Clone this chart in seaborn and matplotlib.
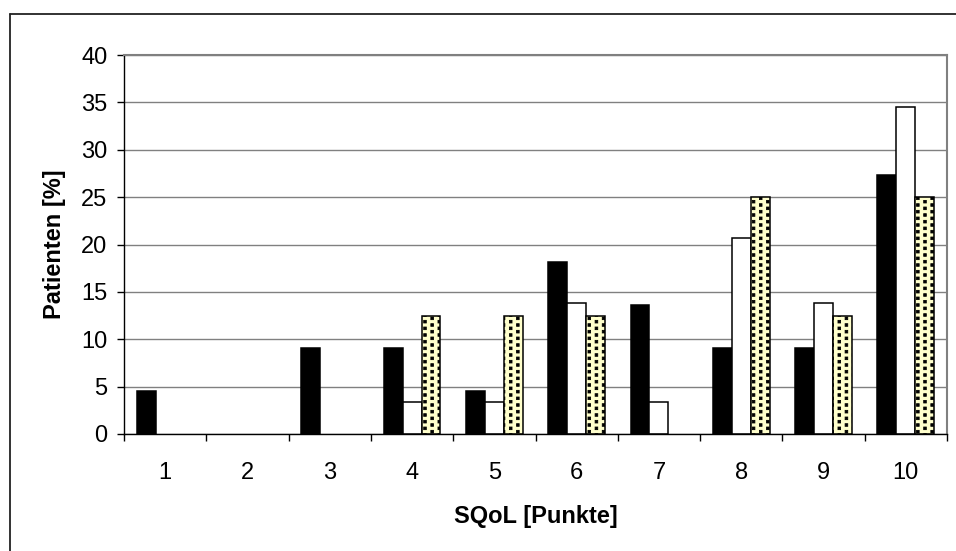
import warnings

import numpy as np
import pandas as pd
import matplotlib
matplotlib.use("Agg")
import matplotlib.pyplot as plt
from matplotlib import hatch as mhatch
from matplotlib.path import Path
from matplotlib.lines import Line2D
from matplotlib.ticker import FixedLocator
import seaborn as sns

# SQoL score categories and share of patients (%) per group
punkte = ["1", "2", "3", "4", "5", "6", "7", "8", "9", "10"]
gruppe_a = [4.5, 0.0, 9.1, 9.1, 4.5, 18.2, 13.6, 9.1, 9.1, 27.3]
gruppe_b = [0.0, 0.0, 0.0, 3.4, 3.4, 13.8, 3.4, 20.7, 13.8, 34.5]
gruppe_c = [0.0, 0.0, 0.0, 12.5, 12.5, 12.5, 0.0, 25.0, 12.5, 25.0]
gruppen = ["A", "B", "C"]
y_ticks = [0, 5, 10, 15, 20, 25, 30, 35, 40]


class SquareDots(mhatch.HatchPatternBase):
    """Staggered grid of small filled squares, selected with hatch 's'."""
    cols, rows, half = 14, 15, 0.013

    def __init__(self, hatch, density):
        self.on = "s" in hatch
        self.num_vertices = self.cols * self.rows * 5 if self.on else 0

    def set_vertices_and_codes(self, vertices, codes):
        square = np.array([[-1, -1], [1, -1], [1, 1], [-1, 1], [-1, -1]]) * self.half
        sq_codes = [Path.MOVETO, Path.LINETO, Path.LINETO, Path.LINETO, Path.CLOSEPOLY]
        k = 0
        for c in range(self.cols):
            x = (c + 0.5) / self.cols
            shift = 0.5 / self.rows if c % 2 else 0.0
            for r in range(self.rows):
                y = (r + 0.25) / self.rows + shift
                vertices[k:k + 5] = square + [x, y]
                codes[k:k + 5] = sq_codes
                k += 5


mhatch._hatch_types.append(SquareDots)
warnings.filterwarnings("ignore", message=".*[Hh]atch.*")

sns.set_theme(style="white")
plt.rcParams["font.family"] = ["Liberation Sans", "DejaVu Sans"]
plt.rcParams["hatch.linewidth"] = 0.6

df = pd.DataFrame({
    "SQoL": punkte * 3,
    "Anteil": gruppe_a + gruppe_b + gruppe_c,
    "Gruppe": [g for g in gruppen for _ in punkte],
})

fig = plt.figure(figsize=(9.56, 5.51), dpi=100)
ax = fig.add_axes([124 / 956, 1 - 434 / 551, 823 / 956, 379 / 551])

sns.barplot(
    data=df, x="SQoL", y="Anteil", hue="Gruppe",
    order=punkte, hue_order=gruppen, width=0.69,
    palette=["black", "white", "#FFFFCC"], saturation=1,
    edgecolor="black", linewidth=1.1, errorbar=None,
    legend=False, ax=ax,
)
for bar in ax.containers[2]:
    bar.set_hatch("s")
# empty categories show no bar outline
for container in ax.containers:
    for bar in container:
        if bar.get_height() == 0:
            bar.set_linewidth(0)

ax.set_xlim(-0.5, 9.5)
ax.set_ylim(0, 40)
ax.set_yticks(y_ticks)
ax.set_yticklabels([str(v) for v in y_ticks])
ax.yaxis.grid(True, color="#808080", linewidth=1.0)
ax.xaxis.grid(False)
ax.set_axisbelow(True)

for side in ("left", "bottom"):
    ax.spines[side].set_color("black")
    ax.spines[side].set_linewidth(1.0)
for side in ("top", "right"):
    ax.spines[side].set_color("#808080")
    ax.spines[side].set_linewidth(1.5)

ax.xaxis.set_minor_locator(FixedLocator(np.arange(-0.5, 10.0, 1.0)))
ax.tick_params(axis="x", which="major", length=0, pad=20, labelsize=17,
               labelcolor="black", bottom=True)
ax.tick_params(axis="x", which="minor", length=5, width=1.0, color="black",
               direction="out", bottom=True)
ax.tick_params(axis="y", which="major", length=5, width=1.0, color="black",
               direction="out", left=True, pad=7, labelsize=17, labelcolor="black")

ax.set_xlabel("SQoL [Punkte]", fontsize=17, fontweight="bold", color="black", labelpad=15)
ax.set_ylabel("Patienten [%]", fontsize=17, fontweight="bold", color="black", labelpad=11)

# chart frame (left and top edges)
fig.add_artist(Line2D([10 / 956, 10 / 956], [-0.05, 1 - 14 / 551],
                      transform=fig.transFigure, color="#222222", linewidth=1.3))
fig.add_artist(Line2D([10 / 956, 1.05], [1 - 14 / 551, 1 - 14 / 551],
                      transform=fig.transFigure, color="#222222", linewidth=1.3))

fig.savefig("out.png", dpi=100)
